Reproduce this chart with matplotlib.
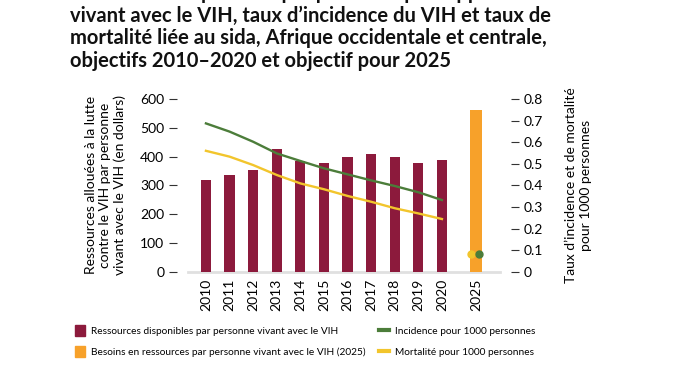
import numpy as np
import matplotlib.pyplot as plt
from matplotlib.patches import Patch
from matplotlib.lines import Line2D

plt.rcParams['font.family'] = ['Lato', 'DejaVu Sans']

# data
years = ['2010', '2011', '2012', '2013', '2014', '2015', '2016', '2017', '2018', '2019', '2020']
resources = [318, 335, 355, 428, 383, 378, 397, 410, 397, 378, 387]
need_label = '2025'
need_2025 = 563
incidence = [0.687, 0.649, 0.602, 0.548, 0.513, 0.479, 0.451, 0.423, 0.397, 0.368, 0.332]
mortality = [0.560, 0.533, 0.494, 0.448, 0.409, 0.382, 0.351, 0.324, 0.294, 0.270, 0.244]
incidence_2025 = 0.082
mortality_2025 = 0.082

maroon = '#8C1A3C'
orange = '#F7A12A'
green = '#4C7D3A'
yellow = '#F2C52C'

W, H = 675, 375
fig = plt.figure(figsize=(W / 100, H / 100), dpi=100)

ax = fig.add_axes([188 / W, 1 - 271.7 / H, (500 - 188) / W, (271.7 - 99) / H])
ax2 = ax.twinx()

x = np.arange(len(years))
x25 = 11.44

ax.bar(x, resources, width=0.43, color=maroon, zorder=2)
ax.bar([x25], [need_2025], width=0.5, color=orange, zorder=2)
ax.set_ylim(0, 600)
ax.set_xlim(-0.76, 12.46)
ax.set_yticks(range(0, 601, 100))
ax.set_xticks(list(x) + [x25])
ax.set_xticklabels(years + [need_label], rotation=90, fontsize=10)
ax.tick_params(axis='x', length=0, pad=5)
ax.tick_params(axis='y', length=6, width=0.8, color='#333333', labelsize=10, pad=3)
ax.axhline(0, color='#e0e0e0', lw=2, zorder=1, clip_on=False)

ax2.plot(x, incidence, color=green, lw=1.7)
ax2.plot(x, mortality, color=yellow, lw=1.7)
ax2.plot([x25 - 0.2], [mortality_2025], 'o', color=yellow, ms=5)
ax2.plot([x25 + 0.12], [incidence_2025], 'o', color=green, ms=5)
ax2.set_ylim(0, 0.8)
ax2.set_yticks(np.arange(0, 0.81, 0.1))
ax2.set_yticklabels(['0', '0.1', '0.2', '0.3', '0.4', '0.5', '0.6', '0.7', '0.8'])
ax2.tick_params(axis='y', length=6, width=0.8, color='#333333', labelsize=10, pad=3)

for a in (ax, ax2):
    for s in a.spines.values():
        s.set_visible(False)
ax.spines['left'].set_position(('outward', 8))
ax2.spines['right'].set_position(('outward', 8))

ax.set_ylabel('Ressources allouées à la lutte\ncontre le VIH par personne\nvivant avec le VIH (en dollars)',
              fontsize=10, labelpad=10, linespacing=1.25)
ax2.set_ylabel('Taux d\u2019incidence et de mortalité\npour 1000 personnes',
               fontsize=10, labelpad=16, linespacing=1.25)

# title (first line is cut off at the top of the image)
title = ('Ressources disponibles par personne par rapport au nombre de\n'
         'vivant avec le VIH, taux d\u2019incidence du VIH et taux de\n'
         'mortalité liée au sida, Afrique occidentale et centrale,\n'
         'objectifs 2010\u20132020 et objectif pour 2025')
fig.text(70 / W, 1 - 71 / H, title, fontsize=14.5, fontweight='bold', ha='left', va='bottom',
         linespacing=1.17, color='#111111')

handles = [Patch(color=maroon), Patch(color=orange), Line2D([], [], color=green, lw=3),
           Line2D([], [], color=yellow, lw=3)]
labels = ['Ressources disponibles par personne vivant avec le VIH',
          'Besoins en ressources par personne vivant avec le VIH (2025)',
          'Incidence pour 1000 personnes',
          'Mortalité pour 1000 personnes']
fig.legend(handles, labels, ncol=2, loc='upper left', bbox_to_anchor=(66 / W, 1 - 316 / H),
           frameon=False, fontsize=7.3, handlelength=1.0, handleheight=1.3, columnspacing=1.3,
           handletextpad=0.6, labelspacing=1.0)

fig.savefig('out.png', dpi=100)
